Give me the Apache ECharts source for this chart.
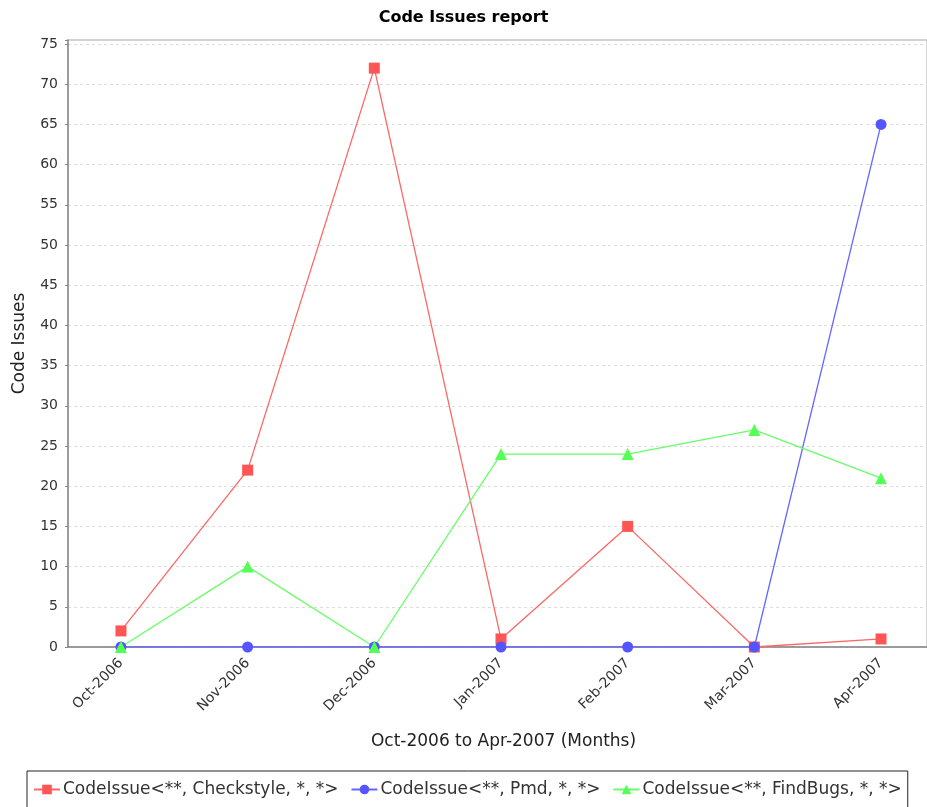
<!DOCTYPE html>
<html>
<head>
<meta charset="utf-8">
<script src="https://cdn.jsdelivr.net/npm/echarts@6/dist/echarts.min.js"></script>
<style>
html,body{margin:0;padding:0;background:#fff;}
#chart{width:927px;height:807px;}
</style>
</head>
<body>
<div id="chart"></div>
<script>
const months = ['Oct-2006','Nov-2006','Dec-2006','Jan-2007','Feb-2007','Mar-2007','Apr-2007'];
const checkstyle = [2, 22, 72, 1, 15, 0, 1];
const pmd = [0, 0, 0, 0, 0, 0, 65];
const findbugs = [0, 10, 0, 24, 24, 27, 21];
const seriesNames = ['CodeIssue<**, Checkstyle, *, *>', 'CodeIssue<**, Pmd, *, *>', 'CodeIssue<**, FindBugs, *, *>'];
const yTicks = [0,5,10,15,20,25,30,35,40,45,50,55,60,65,70,75];

const FONT = 'DejaVu Sans';
const toPairs = arr => arr.map((v, i) => [i, v]);

const chart = echarts.init(document.getElementById('chart'), null, {renderer: 'canvas'});
chart.setOption({
  animation: false,
  backgroundColor: '#fff',
  textStyle: {fontFamily: FONT},
  title: {
    text: 'Code Issues report',
    left: 'center',
    top: 5,
    padding: [5, 0, 5, 8],
    textStyle: {fontFamily: FONT, fontSize: 16, fontWeight: 'bold', color: '#000'}
  },
  grid: {
    left: 68, right: 0, top: 40, bottom: 160,
    show: true, borderColor: '#c4c4c4', borderWidth: 1.5, backgroundColor: '#fff'
  },
  legend: {
    bottom: -7,
    left: 27,
    borderColor: '#222',
    borderWidth: 1,
    padding: [10, 6, 16, 6],
    itemGap: 12,
    itemWidth: 26,
    itemHeight: 12,
    textStyle: {fontFamily: FONT, fontSize: 17, color: '#333', padding: [0, 0, 0, -2]},
    data: seriesNames
  },
  xAxis: {
    type: 'value',
    min: -0.418,
    max: 6.363,
    name: 'Oct-2006 to Apr-2007 (Months)',
    nameLocation: 'middle',
    nameGap: 86,
    nameTextStyle: {fontFamily: FONT, fontSize: 17, color: '#222', padding: [0, 0, 0, 12]},
    axisLine: {show: true, onZero: false, lineStyle: {color: '#888', width: 1.5}},
    axisTick: {show: false},
    splitLine: {show: false},
    axisLabel: {
      customValues: months.map((m, i) => i),
      formatter: v => months[Math.round(v)],
      rotate: 45,
      margin: 14,
      fontFamily: FONT, fontSize: 14, color: '#333'
    }
  },
  yAxis: {
    type: 'value',
    min: 0,
    max: 75.5,
    interval: 5,
    name: 'Code Issues',
    nameLocation: 'middle',
    nameGap: 40,
    nameTextStyle: {fontFamily: FONT, fontSize: 17, color: '#222'},
    axisLine: {show: true, onZero: false, lineStyle: {color: '#888', width: 1.5}},
    axisTick: {show: true, length: 3, lineStyle: {color: '#888'}},
    axisLabel: {
      customValues: yTicks,
      fontFamily: FONT, fontSize: 14, color: '#333', margin: 10
    },
    splitLine: {show: true, showMaxLine: false, lineStyle: {color: '#dcdcdc', type: [3, 3], width: 1}}
  },
  series: [
    {
      name: seriesNames[0], type: 'line', data: toPairs(checkstyle),
      symbol: 'rect', symbolSize: 11,
      itemStyle: {color: '#FF5555'},
      lineStyle: {color: '#FF6666', width: 1.3}
    },
    {
      name: seriesNames[1], type: 'line', data: toPairs(pmd),
      symbol: 'circle', symbolSize: 11,
      itemStyle: {color: '#5555FF'},
      lineStyle: {color: '#6666FF', width: 1.3}
    },
    {
      name: seriesNames[2], type: 'line', data: toPairs(findbugs),
      symbol: 'triangle', symbolSize: 12,
      itemStyle: {color: '#55FF55'},
      lineStyle: {color: '#66FF66', width: 1.3}
    }
  ]
});
</script>
</body>
</html>
